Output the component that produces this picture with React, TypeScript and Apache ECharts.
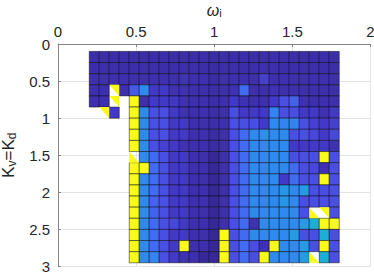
import React, { useEffect, useRef } from "react";
import * as echarts from "echarts";

// omega_i cell edges (x) and Kv=Kd cell edges (y)
const omegaEdges = [0.2, 0.264, 0.328, 0.392, 0.456, 0.52, 0.584, 0.648, 0.712, 0.776, 0.84, 0.904, 0.968, 1.032, 1.096, 1.16, 1.224, 1.288, 1.352, 1.416, 1.48, 1.544, 1.608, 1.672, 1.736, 1.8];
const gainEdges = [0.1, 0.25, 0.4, 0.55, 0.7, 0.85, 1.0, 1.15, 1.3, 1.45, 1.6, 1.75, 1.9, 2.05, 2.2, 2.35, 2.5, 2.65, 2.8, 2.95];

const xTicks = [0, 0.5, 1, 1.5, 2];
const yTicks = [0, 0.5, 1, 1.5, 2, 2.5, 3];

const N = null;
// cell values, one row per Kv=Kd band (top to bottom), one column per omega_i band
const cellRows: (number | null)[][] = [
  [0.04, 0.04, 0.04, 0.04, 0.04, 0.04, 0.04, 0.04, 0.04, 0.04, 0.04, 0.04, 0.03, 0.04, 0.04, 0.04, 0.04, 0.04, 0.05, 0.04, 0.04, 0.04, 0.04, 0.04, 0.04],
  [0.04, 0.04, 0.04, 0.04, 0.04, 0.04, 0.04, 0.04, 0.04, 0.04, 0.04, 0.04, 0.03, 0.04, 0.04, 0.04, 0.04, 0.05, 0.05, 0.04, 0.04, 0.04, 0.04, 0.04, 0.04],
  [0.05, 0.05, 0.05, 0.05, 0.05, 0.05, 0.05, 0.05, 0.05, 0.07, 0.05, 0.05, 0.03, 0.05, 0.05, 0.05, 0.05, 0.12, 0.05, 0.05, 0.05, 0.05, 0.05, 0.05, 0.05],
  [0.05, 0.05, N, 0.05, 0.18, 0.3, 0.1, 0.1, 0.06, 0.06, 0.05, 0.05, 0.04, 0.05, 0.06, 0.22, 0.05, 0.05, 0.06, 0.05, 0.05, 0.05, 0.05, 0.05, 0.05],
  [0.05, 0.05, N, N, 1, 0.05, 0.1, 0.1, 0.09, 0.06, 0.05, 0.05, 0.04, 0.05, 0.1, 0.06, 0.05, 0.05, 0.1, 0.16, 0.2, 0.06, 0.05, 0.05, 0.05],
  [N, N, 0.1, N, 1, 0.3, 0.16, 0.16, 0.1, 0.06, 0.05, 0.05, 0.04, 0.05, 0.16, 0.1, 0.1, 0.1, 0.28, 0.16, 0.16, 0.1, 0.1, 0.06, 0.1],
  [N, N, N, N, 1, 0.3, 0.16, 0.16, 0.1, 0.1, 0.05, 0.05, 0.04, 0.05, 0.16, 0.16, 0.16, 0.1, 0.3, 0.28, 0.28, 0.16, 0.12, 0.1, 0.12],
  [N, N, N, N, 1, 0.3, 0.16, 0.16, 0.1, 0.1, 0.05, 0.05, 0.03, 0.05, 0.16, 0.22, 0.3, 0.32, 0.3, 0.3, 0.16, 0.16, 0.14, 0.1, 0.14],
  [N, N, N, N, 1, 0.3, 0.16, 0.12, 0.1, 0.06, 0.05, 0.05, 0.03, 0.05, 0.16, 0.22, 0.3, 0.3, 0.3, 0.3, 0.1, 0.1, 0.1, 0.1, 0.06],
  [N, N, N, N, N, 0.3, 0.22, 0.16, 0.1, 0.1, 0.05, 0.05, 0.0, 0.05, 0.16, 0.22, 0.3, 0.3, 0.3, 0.3, 0.16, 0.16, 0.16, 1, 0.16],
  [N, N, N, N, 1, 1, 0.22, 0.16, 0.1, 0.1, 0.05, 0.05, 0.0, 0.05, 0.16, 0.22, 0.3, 0.3, 0.3, 0.3, 0.22, 0.16, 0.14, 0.06, 0.16],
  [N, N, N, N, 1, 0.3, 0.22, 0.16, 0.1, 0.1, 0.05, 0.05, 0.0, 0.05, 0.16, 0.22, 0.3, 0.3, 0.3, 0.1, 0.22, 0.16, 0.16, 1, 0.16],
  [N, N, N, N, 1, 0.3, 0.22, 0.16, 0.1, 0.1, 0.05, 0.05, 0.0, 0.05, 0.16, 0.22, 0.3, 0.3, 0.3, 0.34, 0.3, 0.36, 0.16, 0.16, 0.16],
  [N, N, N, N, 1, 0.3, 0.2, 0.16, 0.1, 0.1, 0.05, 0.05, 0.0, 0.05, 0.16, 0.22, 0.3, 0.3, 0.3, 0.34, 0.3, 0.16, 0.16, 0.16, 0.16],
  [N, N, N, N, 1, 0.3, 0.2, 0.16, 0.1, 0.1, 0.05, 0.05, 0.0, 0.05, 0.16, 0.22, 0.3, 0.3, 0.3, 0.3, 0.3, 0.16, N, N, 0.16],
  [N, N, N, N, 1, 0.3, 0.22, 0.16, 0.14, 0.1, 0.05, 0.05, 0.0, 0.05, 0.16, 0.22, 0.06, 0.3, 0.3, 0.3, 0.3, 0.36, 0.42, 1, 1],
  [N, N, N, N, 1, 0.3, 0.22, 0.16, 0.1, 0.1, 0.05, 0.05, 0.0, 1, 0.16, 0.22, 0.3, 0.3, 0.3, 0.3, 0.36, 0.16, 0.16, 0.42, 0.16],
  [N, N, N, N, 1, 0.3, 0.22, 0.16, 0.1, 1, 0.05, 0.05, 0.0, 1, 0.16, 0.22, 0.16, 0.06, 1, 0.3, 0.3, 0.36, 0.16, 1, 0.16],
  [N, N, N, N, 1, 0.3, 0.28, 0.16, 0.1, 0.06, 0.05, 0.0, 0.0, 1, 0.16, 0.22, 0.16, 1, 0.3, 0.3, 0.3, 0.36, N, 0.42, 0.16],
];

// cells drawn as two triangles: [row, col, upper-right value, lower-left value]
const splitCells: [number, number, number | null, number | null][] = [
  [3, 2, 1, null],
  [4, 2, 1, null],
  [5, 1, 1, null],
  [9, 4, null, 1],
  [14, 22, null, 1],
  [14, 23, 1, null],
  [18, 22, null, 1],
];

const colourStops: [number, string][] = [
  [0, "#36289a"],
  [0.05, "#3d2fae"],
  [0.1, "#4239c8"],
  [0.16, "#4a4fe4"],
  [0.22, "#416cf2"],
  [0.3, "#2f8af0"],
  [0.36, "#249ce4"],
  [0.42, "#1daed6"],
  [0.55, "#2fc2a0"],
  [0.7, "#8ccb5a"],
  [0.85, "#f0bd3a"],
  [1, "#f9f91a"],
];

function hexToRgb(h: string) {
  const n = parseInt(h.slice(1), 16);
  return [(n >> 16) & 255, (n >> 8) & 255, n & 255];
}
function colourOf(v: number) {
  if (v <= colourStops[0][0]) return colourStops[0][1];
  for (let i = 1; i < colourStops.length; i++) {
    const [t1, c1] = colourStops[i];
    const [t0, c0] = colourStops[i - 1];
    if (v <= t1) {
      const f = (v - t0) / (t1 - t0);
      const a = hexToRgb(c0);
      const b = hexToRgb(c1);
      const m = a.map((x, k) => Math.round(x + (b[k] - x) * f));
      return `rgb(${m[0]},${m[1]},${m[2]})`;
    }
  }
  return colourStops[colourStops.length - 1][1];
}

// shape: 0 full, 1 upper-right triangle, 2 lower-left triangle
function buildData() {
  const out: number[][] = [];
  cellRows.forEach((row, r) => {
    row.forEach((v, c) => {
      if (v !== null) out.push([c, r, v, 0]);
    });
  });
  splitCells.forEach(([r, c, ur, ll]) => {
    if (ur !== null) out.push([c, r, ur, 1]);
    if (ll !== null) out.push([c, r, ll, 2]);
  });
  return out;
}

const FONT = "Liberation Sans, Arial, Helvetica, sans-serif";
const TXT = "#262626";
const AXIS = "#858585";

export default function App() {
  const ref = useRef<HTMLDivElement>(null);
  useEffect(() => {
    if (!ref.current) return;
    const chart = echarts.init(ref.current, null, { renderer: "svg" });
    chart.setOption({
      animation: false,
      backgroundColor: "#ffffff",
      textStyle: { fontFamily: FONT },
      grid: { left: 58, top: 44, right: 3.5, bottom: 7.5, containLabel: false, outerBoundsMode: "none" },
      xAxis: {
        type: "value",
        position: "top",
        min: xTicks[0],
        max: xTicks[xTicks.length - 1],
        interval: 0.5,
        name: "{w|ω}{s|i}",
        nameLocation: "middle",
        nameGap: 26,
        nameTextStyle: {
          rich: {
            w: { fontSize: 16, lineHeight: 16, color: TXT, fontFamily: FONT, fontStyle: "italic" },
            s: { fontSize: 11, lineHeight: 11, color: TXT, fontFamily: FONT, padding: [6, 0, 0, 0] },
          },
        },
        axisLine: { show: true, lineStyle: { color: AXIS, width: 1 } },
        axisTick: { show: true, inside: true, length: 3, lineStyle: { color: AXIS } },
        axisLabel: { fontSize: 15, color: TXT, margin: 5, fontFamily: FONT },
        splitLine: { show: true, lineStyle: { color: "#e3e3e3", width: 1 } },
      },
      yAxis: {
        type: "value",
        inverse: true,
        min: yTicks[0],
        max: yTicks[yTicks.length - 1],
        interval: 0.5,
        name: "{k|K}{s|v}{k|=K}{s|d}",
        nameLocation: "middle",
        nameGap: 33,
        nameRotate: 90,
        nameTextStyle: {
          rich: {
            k: { fontSize: 17, lineHeight: 17, color: TXT, fontFamily: FONT },
            s: { fontSize: 12, lineHeight: 12, color: TXT, fontFamily: FONT, padding: [7, 0, 0, 0] },
          },
        },
        axisLine: { show: true, lineStyle: { color: AXIS, width: 1 } },
        axisTick: { show: true, inside: true, length: 3, lineStyle: { color: AXIS } },
        axisLabel: { fontSize: 15, color: TXT, margin: 8, fontFamily: FONT },
        splitLine: { show: true, lineStyle: { color: "#e3e3e3", width: 1 } },
      },
      series: [
        {
          type: "custom",
          silent: true,
          data: buildData(),
          encode: { x: 0, y: 1 },
          renderItem: (params: any, api: any) => {
            const c = api.value(0);
            const r = api.value(1);
            const v = api.value(2);
            const shape = api.value(3);
            const p0 = api.coord([omegaEdges[c], gainEdges[r]]);
            const p1 = api.coord([omegaEdges[c + 1], gainEdges[r + 1]]);
            const x0 = p0[0], y0 = p0[1], x1 = p1[0], y1 = p1[1];
            const style = { fill: colourOf(v), stroke: "rgba(0,0,0,0.8)", lineWidth: 0.6 };
            if (shape === 0) {
              return { type: "rect", shape: { x: x0, y: y0, width: x1 - x0, height: y1 - y0 }, style };
            }
            const pts = shape === 1 ? [[x0, y0], [x1, y0], [x1, y1]] : [[x0, y0], [x0, y1], [x1, y1]];
            return { type: "polygon", shape: { points: pts }, style: { fill: colourOf(v), stroke: "none" } };
          },
        },
      ],
    });
    return () => chart.dispose();
  }, []);
  return <div ref={ref} style={{ position: "fixed", left: 0, top: 0, width: 374, height: 274 }} />;
}
